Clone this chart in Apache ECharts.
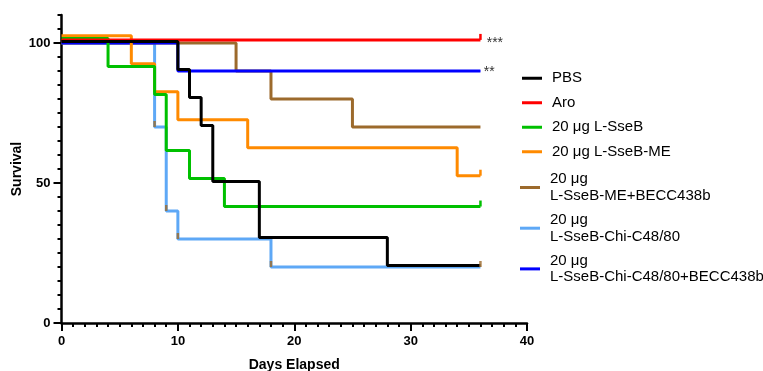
<!DOCTYPE html>
<html><head><meta charset="utf-8">
<script src="https://cdn.jsdelivr.net/npm/echarts@6/dist/echarts.min.js"></script>
<style>html,body{margin:0;padding:0;background:#fff}#c{width:763px;height:371px}</style>
</head><body><div id="c"></div>
<script>
// ---- data ----
const seriesNames = ['PBS', 'Aro', '20 μg L-SseB', '20 μg L-SseB-ME',
  '20 μg\nL-SseB-ME+BECC438b', '20 μg\nL-SseB-Chi-C48/80', '20 μg\nL-SseB-Chi-C48/80+BECC438b'];
const pbsDays = [0, 10, 11, 12, 13, 17, 28, 36];
const pbsSurv = [100.5, 90.5, 80.5, 70.5, 50.5, 30.5, 20.5, 20.5];
const aroDays = [0, 36];
const aroSurv = [101.1, 101.1];
const sseBDays = [0, 4, 8, 9, 11, 14, 36];
const sseBSurv = [101.6, 91.6, 81.6, 61.6, 51.6, 41.6, 41.6];
const meDays = [0, 6, 8, 10, 16, 34, 36];
const meSurv = [102.6, 92.6, 82.6, 72.6, 62.6, 52.6, 52.6];
const meBeccDays = [0, 15, 18, 25, 36];
const meBeccSurv = [100, 90, 80, 70, 70];
const chiDays = [0, 8, 9, 10, 18, 36];
const chiSurv = [100, 70, 40, 30, 20, 20];
const chiBeccDays = [0, 10, 36];
const chiBeccSurv = [100, 90, 90];
const censorDays = [8, 9, 10, 18, 36];
const censorSurv = [70, 40, 30, 20, 20];
const endTick = [false, true, true, true, false, false, false];
const sigLabels = ['', '***', '', '', '', '', '**'];
const yTickLabels = [0, 50, 100];

const allDays = [pbsDays, aroDays, sseBDays, meDays, meBeccDays, chiDays, chiBeccDays];
const allSurv = [pbsSurv, aroSurv, sseBSurv, meSurv, meBeccSurv, chiSurv, chiBeccSurv];
const colors = ['#000000', '#ff0000', '#00c000', '#ff8a00', '#9c6a2c', '#5ea8f6', '#0000ff'];
const zs = [9, 8, 7, 6, 4, 3, 5];
const FONT = 'Liberation Sans, Arial, Helvetica, sans-serif';

const series = seriesNames.map((name, i) => {
  const data = allDays[i].map((d, k) => [d, allSurv[i][k]]);
  const last = data.length - 1;
  const item = { value: data[last] };
  if (endTick[i]) {
    item.symbol = 'rect'; item.symbolSize = [2.5, 6]; item.symbolOffset = [0, -3];
  } else if (sigLabels[i]) {
    item.symbol = 'rect'; item.symbolSize = [0.5, 0.5];
  }
  if (sigLabels[i]) {
    item.label = {
      show: true, formatter: sigLabels[i], position: 'right',
      distance: endTick[i] ? 5 : 3, offset: endTick[i] ? [0, 6] : [0, 1],
      color: '#333', fontSize: 14, fontFamily: FONT
    };
  }
  data[last] = item;
  return {
    name, type: 'line', step: 'end', data, symbol: 'none', showSymbol: true,
    z: zs[i], color: colors[i], itemStyle: { color: colors[i] },
    lineStyle: { color: colors[i], width: 3 }, animation: false, silent: true
  };
});
series.push({
  name: 'censor', type: 'scatter', z: 10, animation: false, silent: true,
  data: censorDays.map((d, k) => [d, censorSurv[k]]),
  symbol: 'rect', symbolSize: [2.5, 6], symbolOffset: [0, -3],
  itemStyle: { color: '#9c6a2c' }
});

const legendText = { fontFamily: FONT, fontSize: 15, lineHeight: 16.5, color: '#000', padding: [0, 0, 0, 5] };
const chart = echarts.init(document.getElementById('c'), null, { renderer: 'canvas' });
chart.setOption({
  backgroundColor: '#fff',
  animation: false,
  grid: { left: 61.5, right: 236, top: 15, bottom: 48, outerBoundsMode: 'none' },
  legend: [{
    orient: 'vertical', left: 522, top: 70, padding: 0, itemGap: 8, itemWidth: 20, itemHeight: 3,
    icon: 'rect', data: seriesNames.slice(0, 4), selectedMode: false, textStyle: legendText
  }, {
    orient: 'vertical', left: 520, top: 171, padding: 0, itemGap: 7.7, itemWidth: 20, itemHeight: 3,
    icon: 'rect', data: seriesNames.slice(4), selectedMode: false, textStyle: legendText
  }],
  xAxis: {
    type: 'value', min: 0, max: 40, interval: 10,
    name: 'Days Elapsed', nameLocation: 'middle', nameGap: 35, nameMoveOverlap: false,
    nameTextStyle: { fontFamily: FONT, fontSize: 14, fontWeight: 'bold', color: '#000' },
    axisLine: { lineStyle: { color: '#000', width: 2.5 } },
    axisTick: { length: 8, lineStyle: { color: '#000', width: 2 } },
    minorTick: { show: true, splitNumber: 10, length: 4, lineStyle: { color: '#000', width: 2 } },
    axisLabel: { fontFamily: FONT, fontSize: 13, fontWeight: 'bold', color: '#000', margin: 12 },
    splitLine: { show: false }, minorSplitLine: { show: false }
  },
  yAxis: [{
    type: 'value', position: 'left', min: 0, max: 110, interval: 5,
    name: 'Survival', nameLocation: 'middle', nameGap: 37, nameMoveOverlap: false,
    nameTextStyle: { fontFamily: FONT, fontSize: 14, fontWeight: 'bold', color: '#000' },
    axisLine: { show: true, lineStyle: { color: '#000', width: 2.5 } },
    axisTick: { show: true, length: 4, lineStyle: { color: '#000', width: 2 } },
    axisLabel: {
      formatter: v => (yTickLabels.indexOf(v) >= 0 ? String(v) : ''),
      fontFamily: FONT, fontSize: 13, fontWeight: 'bold', color: '#000', margin: 11
    },
    splitLine: { show: false }
  }, {
    type: 'value', position: 'left', min: 0, max: 110, interval: 50,
    axisLine: { show: false },
    axisTick: { show: true, customValues: yTickLabels, length: 8, lineStyle: { color: '#000', width: 2 } },
    axisLabel: { show: false }, splitLine: { show: false }
  }],
  series
});
</script></body></html>
